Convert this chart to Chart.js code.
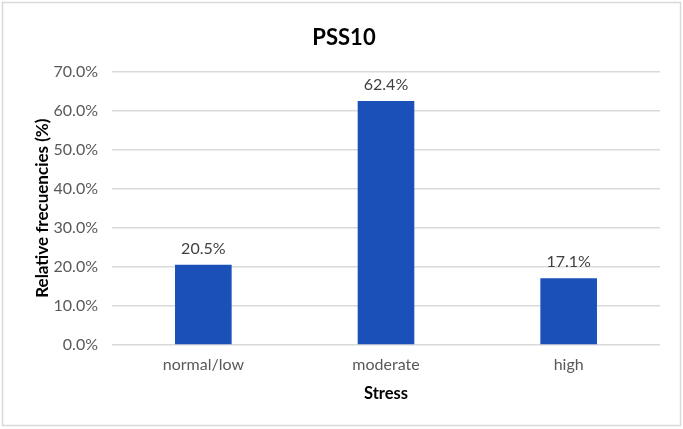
<!DOCTYPE html>
<html>
<head>
<meta charset="utf-8">
<script src="https://cdn.jsdelivr.net/npm/chart.js@4/dist/chart.umd.min.js"></script>
<style>
html,body{margin:0;padding:0;background:#fff;}
#wrap{position:absolute;left:0;top:0;width:683px;height:429px;}
</style>
</head>
<body>
<div id="wrap"><canvas id="c" width="683" height="429"></canvas></div>
<script>
const categories = ["normal/low", "moderate", "high"];
const relativeFrequencies = [20.5, 62.4, 17.1];
const chartTitle = "PSS10";
const xTitle = "Stress";
const yTitle = "Relative frecuencies (%)";

const FONT = "Lato, 'Open Sans', sans-serif";

const borderPlugin = {
  id: 'outerBorder',
  beforeDraw(chart) {
    const ctx = chart.ctx;
    ctx.save();
    ctx.fillStyle = '#ffffff';
    ctx.fillRect(0, 0, chart.width, chart.height);
    ctx.strokeStyle = '#d9d9d9';
    ctx.lineWidth = 1.5;
    ctx.strokeRect(2.5, 2.5, chart.width - 5, chart.height - 6);
    ctx.restore();
  }
};

const labelPlugin = {
  id: 'valueLabels',
  afterDatasetsDraw(chart) {
    const ctx = chart.ctx;
    const meta = chart.getDatasetMeta(0);
    ctx.save();
    ctx.font = "16px " + FONT;
    ctx.fillStyle = '#404040';
    ctx.textAlign = 'center';
    ctx.textBaseline = 'alphabetic';
    meta.data.forEach((bar, i) => {
      const v = chart.data.datasets[0].data[i];
      ctx.fillText(v.toFixed(1) + '%', bar.x, bar.y - 11);
    });
    ctx.restore();
  }
};

new Chart(document.getElementById('c'), {
  type: 'bar',
  data: {
    labels: categories,
    datasets: [{
      data: relativeFrequencies,
      backgroundColor: '#1a50b8',
      barPercentage: 0.31,
      categoryPercentage: 1.0
    }]
  },
  options: {
    responsive: false,
    animation: false,
    layout: { padding: { left: 28, right: 23, top: 25, bottom: 25 } },
    plugins: {
      legend: { display: false },
      tooltip: { enabled: false },
      title: {
        display: true,
        text: chartTitle,
        color: '#000000',
        font: { family: FONT, size: 22, weight: 'bold' },
        padding: { top: 0, bottom: 20 }
      }
    },
    scales: {
      x: {
        grid: { display: false, drawTicks: false },
        border: { display: false },
        ticks: { color: '#595959', font: { family: FONT, size: 16 }, padding: 10 },
        title: {
          display: true, text: xTitle, color: '#000000',
          font: { family: FONT, size: 16.5, weight: 'bold' }, padding: { top: 0, bottom: 0 }
        }
      },
      y: {
        min: 0, max: 70,
        afterFit(scale) { scale.width = 84; },
        grid: { color: '#d9d9d9', lineWidth: 1.5, drawTicks: false },
        border: { display: false },
        ticks: {
          stepSize: 10, padding: 14, color: '#595959',
          font: { family: FONT, size: 16 },
          callback: v => v.toFixed(1) + '%'
        },
        title: {
          display: true, text: yTitle, color: '#000000',
          font: { family: FONT, size: 17, weight: 'bold' }, padding: { top: 4, bottom: 2 }
        }
      }
    }
  },
  plugins: [borderPlugin, labelPlugin]
});
</script>
</body>
</html>
